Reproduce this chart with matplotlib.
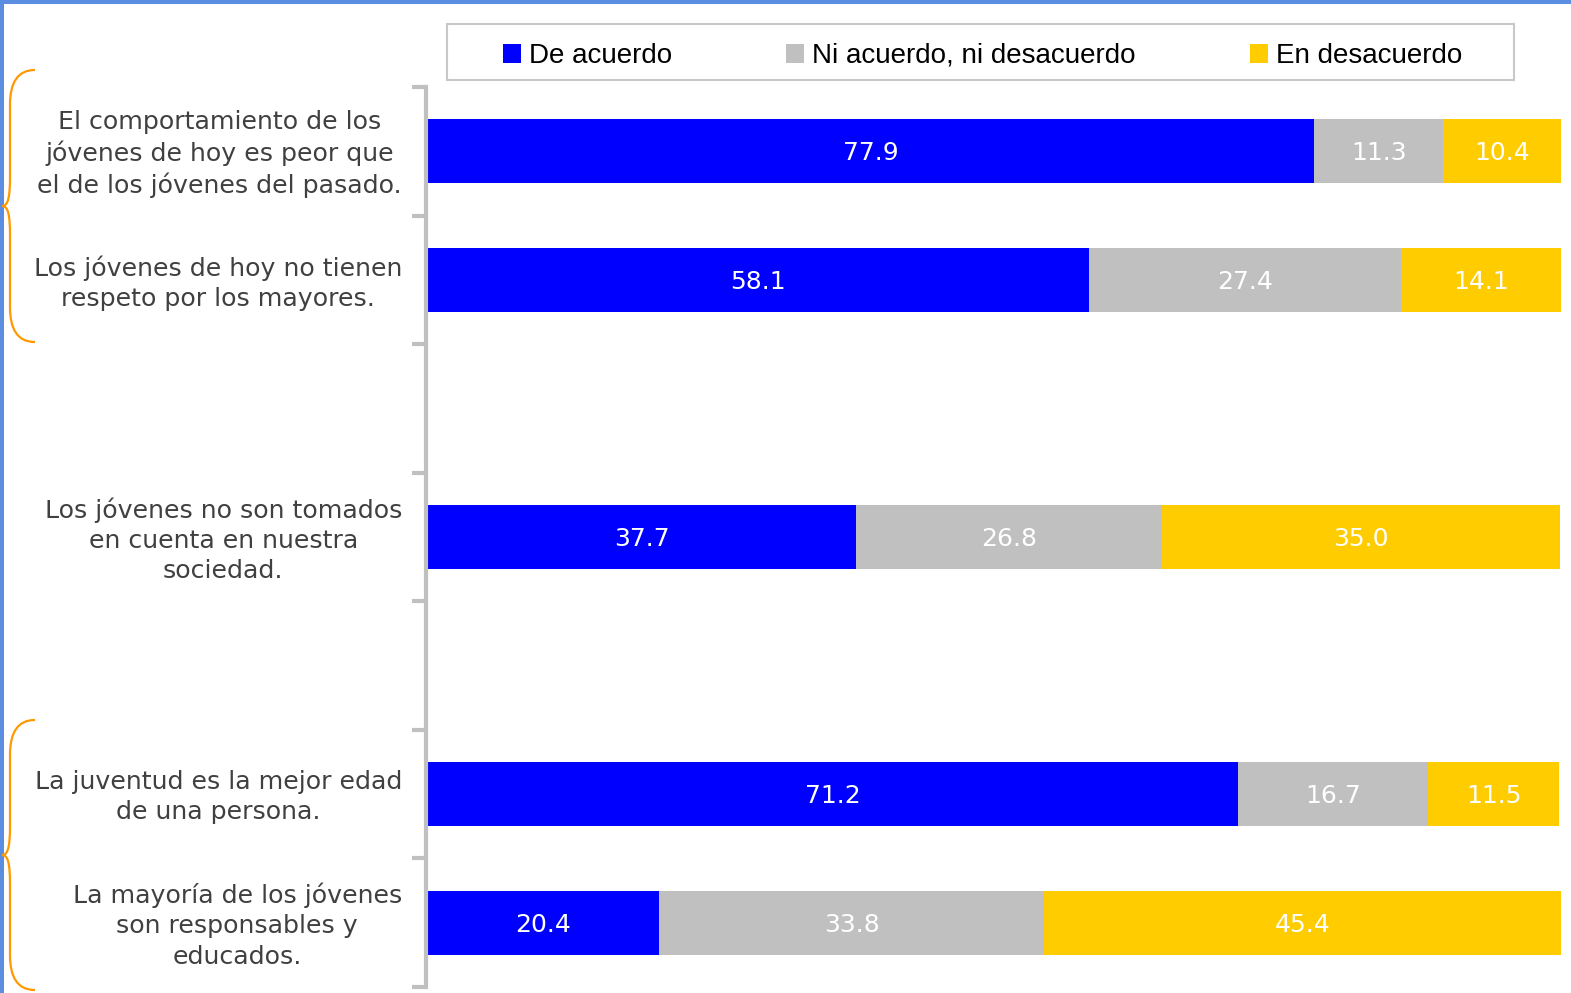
import numpy as np
import matplotlib
matplotlib.use('Agg')
import matplotlib.pyplot as plt
from matplotlib.path import Path
from matplotlib.patches import PathPatch, Rectangle

# data
categories = [
    "El comportamiento de los\njóvenes de hoy es peor que\nel de los jóvenes del pasado.",
    "Los jóvenes de hoy no tienen\nrespeto por los mayores.",
    "",
    "Los jóvenes no son tomados\nen cuenta en nuestra\nsociedad.",
    "",
    "La juventud es la mejor edad\nde una persona.",
    "La mayoría de los jóvenes\nson responsables y\neducados.",
]
series_names = ["De acuerdo", "Ni acuerdo, ni desacuerdo", "En desacuerdo"]
de_acuerdo = [77.9, 58.1, None, 37.7, None, 71.2, 20.4]
ni_acuerdo = [11.3, 27.4, None, 26.8, None, 16.7, 33.8]
en_desacuerdo = [10.4, 14.1, None, 35.0, None, 11.5, 45.4]
colors = ["#0000FF", "#C0C0C0", "#FFCC00"]

W, H = 1571, 993
fig = plt.figure(figsize=(W / 100, H / 100), dpi=100)

def px(x0, y0, x1, y1):
    return [x0 / W, 1 - y1 / H, (x1 - x0) / W, (y1 - y0) / H]

ax = fig.add_axes(px(427, 87, 1566, 987))
n = len(categories)
y = np.arange(n)
left = np.zeros(n)
handles = []
for name, vals, c in zip(series_names, [de_acuerdo, ni_acuerdo, en_desacuerdo], colors):
    v = np.array([np.nan if a is None else a for a in vals])
    vv = np.nan_to_num(v)
    b = ax.barh(y, vv, left=left, height=0.5, color=c, label=name)
    handles.append(b)
    for i in range(n):
        if not np.isnan(v[i]):
            ax.annotate("%.1f" % v[i], xy=(left[i] + vv[i] / 2, y[i]),
                        xytext=(0, -2), textcoords='offset pixels',
                        ha='center', va='center', color='white',
                        fontsize=18, family='DejaVu Sans')
    left += vv

ax.set_xlim(0, 100)
ax.set_ylim(n - 0.5, -0.5)
ax.set_xticks([])
ax.set_yticks(np.arange(-0.5, n, 1.0))
ax.set_yticklabels([])
ax.tick_params(axis='y', length=10, width=3, color='#C0C0C0', direction='out')
for s in ['top', 'right', 'bottom']:
    ax.spines[s].set_visible(False)
ax.spines['left'].set_color('#C0C0C0')
ax.spines['left'].set_linewidth(3)
ax.spines['left'].set_position(('outward', 1))

for i, lab in enumerate(categories):
    if lab:
        ax.annotate(lab, xy=(0, y[i]), xycoords=('axes fraction', 'data'),
                    xytext=(-25, -3), textcoords='offset pixels',
                    ha='right', va='center', multialignment='center',
                    fontsize=18.2, color='#404040', linespacing=1.32,
                    family='DejaVu Sans')

# overlay for decorations
ov = fig.add_axes([0, 0, 1, 1], zorder=-1)
ov.set_xlim(0, W)
ov.set_ylim(H, 0)
ov.axis('off')

# blue border
border = '#5B8DE1'
ov.add_patch(Rectangle((0, 0), W, 4, color=border, lw=0))
ov.add_patch(Rectangle((0, 0), 4, H, color=border, lw=0))

# legend frame
ov.add_patch(Rectangle((447, 24), 1514 - 447, 80 - 24, fill=False, ec='#C8C8C8', lw=1.5))
fig.legend(handles=handles, loc='center', bbox_to_anchor=(982.5 / W, 1 - 56 / H), ncol=3,
           frameon=False, prop={'family': 'Liberation Sans', 'size': 20},
           handlelength=0.65, handleheight=0.65, handletextpad=0.3, columnspacing=4.1)

# orange braces
def brace(top, bot):
    mid = (top + bot) / 2
    verts = [(35, top), (18, top), (10, top + 12), (10, top + 35),
             (10, mid - 30),
             (10, mid - 8), (8, mid), (2, mid),
             (8, mid), (10, mid + 8), (10, mid + 30),
             (10, bot - 35),
             (10, bot - 12), (18, bot), (35, bot)]
    codes = [Path.MOVETO, Path.CURVE4, Path.CURVE4, Path.CURVE4,
             Path.LINETO,
             Path.CURVE4, Path.CURVE4, Path.CURVE4,
             Path.CURVE4, Path.CURVE4, Path.CURVE4,
             Path.LINETO,
             Path.CURVE4, Path.CURVE4, Path.CURVE4]
    ov.add_patch(PathPatch(Path(verts, codes), fill=False, ec='#FF9900', lw=1.6))

brace(70, 342)
brace(720, 990)

fig.savefig('out.png', dpi=100)
